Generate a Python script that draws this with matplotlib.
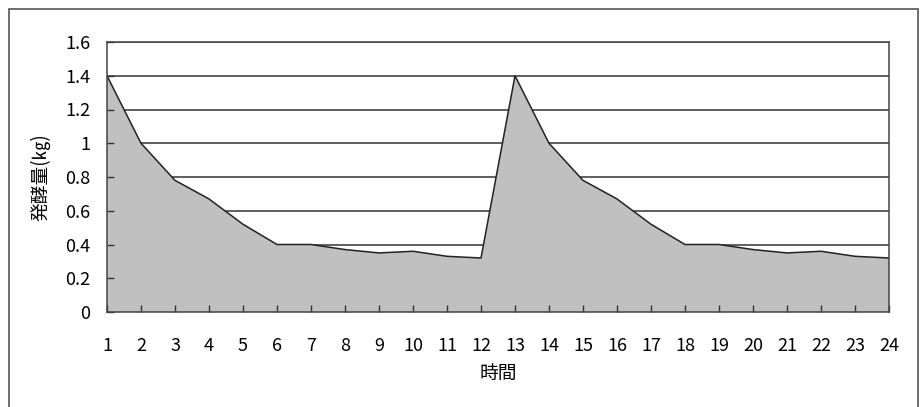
import matplotlib
matplotlib.use("Agg")
import matplotlib.pyplot as plt
from matplotlib.patches import Rectangle

plt.rcParams['font.family'] = ['Noto Sans CJK JP', 'DejaVu Sans']

hours = list(range(1, 25))
amount = [1.40, 1.00, 0.78, 0.67, 0.52, 0.40, 0.40, 0.37, 0.35, 0.36, 0.33, 0.32,
          1.40, 1.00, 0.78, 0.67, 0.52, 0.40, 0.40, 0.37, 0.35, 0.36, 0.33, 0.32]
y_ticks = [0, 0.2, 0.4, 0.6, 0.8, 1.0, 1.2, 1.4, 1.6]
y_tick_labels = ['0', '0.2', '0.4', '0.6', '0.8', '1', '1.2', '1.4', '1.6']
x_label = '時間'
y_label = '発酵量(㎏)'

W, H = 922, 407
fig = plt.figure(figsize=(W / 100, H / 100), dpi=100)
ax = fig.add_axes([107 / W, 1 - 312 / H, (889 - 107) / W, (312 - 42) / H])

# outer chart frame
fig.add_artist(Rectangle((9 / W, -0.1), (918 - 9) / W, 1.1 - 9 / H,
                         transform=fig.transFigure, fill=False,
                         edgecolor='#555555', linewidth=1.2))

for yv in y_ticks:
    ax.axhline(yv, color='#333333', linewidth=1.1, zorder=0.5)

ax.fill_between(hours, 0, amount, facecolor='#c0c0c0', edgecolor='none', zorder=1)
ax.plot(hours, amount, color='#222222', linewidth=1.1, zorder=2)

ax.set_xlim(1, 24)
ax.set_ylim(0, 1.6)
ax.set_xticks(hours)
ax.set_xticklabels([str(h) for h in hours])
ax.set_yticks(y_ticks)
ax.set_yticklabels(y_tick_labels)

ax.tick_params(axis='x', direction='in', length=5, width=1, color='#333333',
               pad=18, labelsize=13)
ax.tick_params(axis='y', direction='in', length=5, width=1, color='#333333',
               pad=12, labelsize=13)

for s in ax.spines.values():
    s.set_color('#444444')
    s.set_linewidth(1.1)
    s.set_zorder(3)

ax.set_xlabel(x_label, fontsize=13.5, labelpad=6)
ax.set_ylabel(y_label, fontsize=13.5, labelpad=10)

fig.savefig('out.png', dpi=100)
